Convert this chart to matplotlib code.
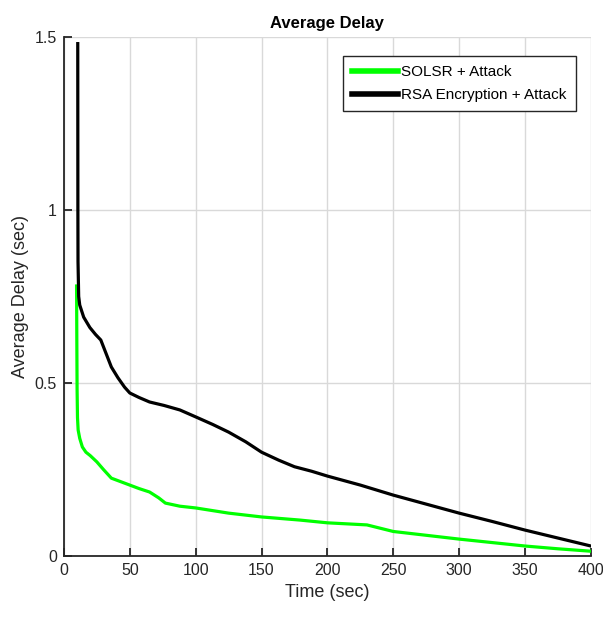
import matplotlib
matplotlib.use("Agg")
import matplotlib.pyplot as plt

plt.rcParams["font.family"] = ["Liberation Sans", "DejaVu Sans"]

# --- data ---
t_solsr = [9.6, 9.8, 10.0, 10.3, 10.8, 12, 14, 16.7, 20, 25, 30, 36, 43, 50, 57, 65, 72, 77,
           88, 100, 125, 150, 179, 200, 230, 250, 275, 300, 325, 350, 375, 400]
d_solsr = [0.78, 0.62, 0.48, 0.40, 0.364, 0.34, 0.315, 0.30, 0.29, 0.272, 0.25, 0.225, 0.215,
           0.205, 0.195, 0.185, 0.168, 0.153, 0.144, 0.139, 0.124, 0.113, 0.104, 0.096, 0.09,
           0.071, 0.06, 0.049, 0.039, 0.029, 0.021, 0.014]

t_rsa = [10.5, 10.6, 10.7, 11.2, 12, 15, 19.7, 24, 28, 32, 36, 41, 46, 50, 57, 65, 76, 88,
         100, 113, 125, 138, 150, 163, 175, 188, 200, 225, 250, 275, 300, 325, 350, 375, 400]
d_rsa = [1.48, 1.0, 0.85, 0.75, 0.725, 0.69, 0.66, 0.64, 0.624, 0.585, 0.546, 0.515, 0.488,
         0.471, 0.458, 0.445, 0.435, 0.422, 0.402, 0.38, 0.358, 0.33, 0.30, 0.277, 0.258,
         0.245, 0.231, 0.205, 0.176, 0.150, 0.124, 0.100, 0.075, 0.052, 0.029]

x_ticks = [0, 50, 100, 150, 200, 250, 300, 350, 400]
y_ticks = [0, 0.5, 1, 1.5]
y_tick_labels = ["0", "0.5", "1", "1.5"]


def main() -> None:
    fig = plt.figure(figsize=(6.03, 6.22), dpi=100)
    ax = fig.add_axes([0.106, 0.106, 0.874, 0.835])

    ax.plot(t_solsr, d_solsr, color="#00ff00", lw=2.3, label="SOLSR + Attack")
    ax.plot(t_rsa, d_rsa, color="black", lw=2.3, label="RSA Encryption + Attack")

    ax.set_xlim(0, 400)
    ax.set_ylim(0, 1.5)
    ax.set_xticks(x_ticks)
    ax.set_yticks(y_ticks)
    ax.set_yticklabels(y_tick_labels)
    ax.grid(True, color="#d9d9d9", lw=1.0)
    ax.set_axisbelow(True)

    for side in ("top", "right"):
        ax.spines[side].set_visible(False)
    for side in ("left", "bottom"):
        ax.spines[side].set_linewidth(1.3)
        ax.spines[side].set_color("#262626")
    ax.tick_params(direction="in", length=6, width=1.3, labelsize=11.5,
                   colors="#262626", pad=5)

    ax.set_xlabel("Time (sec)", fontsize=13, color="#262626")
    ax.set_ylabel("Average Delay (sec)", fontsize=13, color="#262626")
    ax.set_title("Average Delay", fontsize=12, fontweight="bold", pad=6)

    leg = ax.legend(loc="upper right", bbox_to_anchor=(0.971, 0.963), borderaxespad=0,
                    fontsize=11, frameon=True, fancybox=False, framealpha=1,
                    edgecolor="#262626", handlelength=3.0, handletextpad=0.2,
                    borderpad=0.6, labelspacing=0.6)
    leg.get_frame().set_linewidth(1.0)
    for line in leg.get_lines():
        line.set_linewidth(4)

    fig.savefig("out.png", dpi=100)


if __name__ == "__main__":
    main()
